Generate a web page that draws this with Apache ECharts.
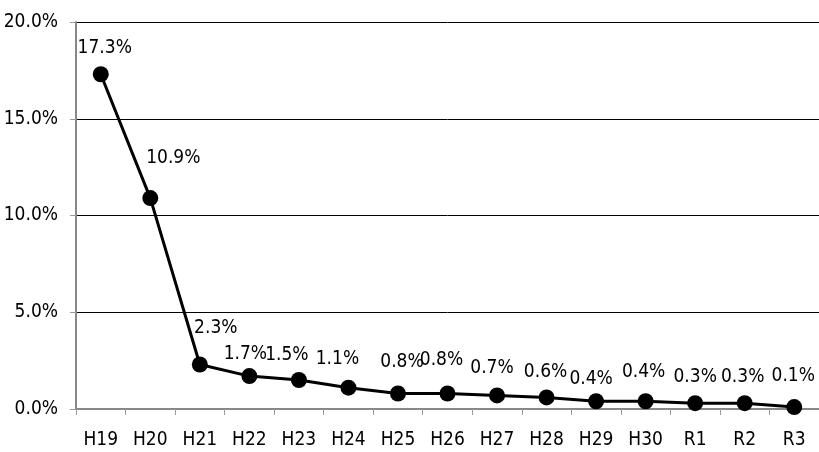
<!DOCTYPE html>
<html>
<head>
<meta charset="utf-8">
<script src="https://cdn.jsdelivr.net/npm/echarts@6/dist/echarts.min.js"></script>
<style>
html,body{margin:0;padding:0;background:#fff;}
#chart{width:819px;height:452px;}
</style>
</head>
<body>
<div id="chart"></div>
<script>
const categories = ['H19','H20','H21','H22','H23','H24','H25','H26','H27','H28','H29','H30','R1','R2','R3'];
const rates = [17.3, 10.9, 2.3, 1.7, 1.5, 1.1, 0.8, 0.8, 0.7, 0.6, 0.4, 0.4, 0.3, 0.3, 0.1];
const yTicks = [0, 5, 10, 15, 20];
// label placement offsets (style only)
const labelOffsets = [[4,-26],[23,-40],[16,-36],[-4,-22],[-12,-25],[-11,-29],[4,-31],[-6,-33],[-5,-27],[-1,-25],[-5,-22],[-2,-29],[0,-26],[-2,-26],[-1,-31]];

const FONT = "'DejaVu Sans Condensed', 'Liberation Sans Narrow', sans-serif";
const FS = 19;
const chart = echarts.init(document.getElementById('chart'), null, {renderer:'canvas'});
chart.setOption({
  animation: false,
  backgroundColor: '#fff',
  grid: {left: 76, top: 22, right: -7, bottom: 43, containLabel: false},
  xAxis: {
    type: 'category',
    data: categories,
    boundaryGap: true,
    axisLine: {lineStyle: {color: '#888', width: 2}},
    axisTick: {show: true, length: 6, lineStyle: {color: '#999', width: 1}},
    axisLabel: {color: '#000', fontFamily: FONT, fontSize: FS, margin: 22, interval: 0},
    splitLine: {show: false}
  },
  yAxis: {
    type: 'value',
    min: yTicks[0],
    max: yTicks[yTicks.length-1],
    interval: 5,
    axisLine: {show: true, lineStyle: {color: '#888', width: 2}},
    axisTick: {show: true, length: 6, lineStyle: {color: '#999', width: 1}},
    axisLabel: {color: '#000', fontFamily: FONT, fontSize: FS, margin: 18,
      formatter: v => v.toFixed(1) + '%'},
    splitLine: {show: true, lineStyle: {color: '#000', width: 1}}
  },
  series: [{
    type: 'line',
    data: rates.map((v, i) => ({
      value: v,
      label: {offset: labelOffsets[i]}
    })),
    symbol: 'circle',
    symbolSize: 16,
    lineStyle: {color: '#000', width: 3},
    itemStyle: {color: '#000'},
    label: {
      show: true,
      position: 'inside',
      color: '#000',
      fontFamily: FONT,
      fontSize: FS,
      align: 'center',
      verticalAlign: 'middle',
      formatter: p => p.value.toFixed(1) + '%'
    },
    z: 5
  }]
});
</script>
</body>
</html>
